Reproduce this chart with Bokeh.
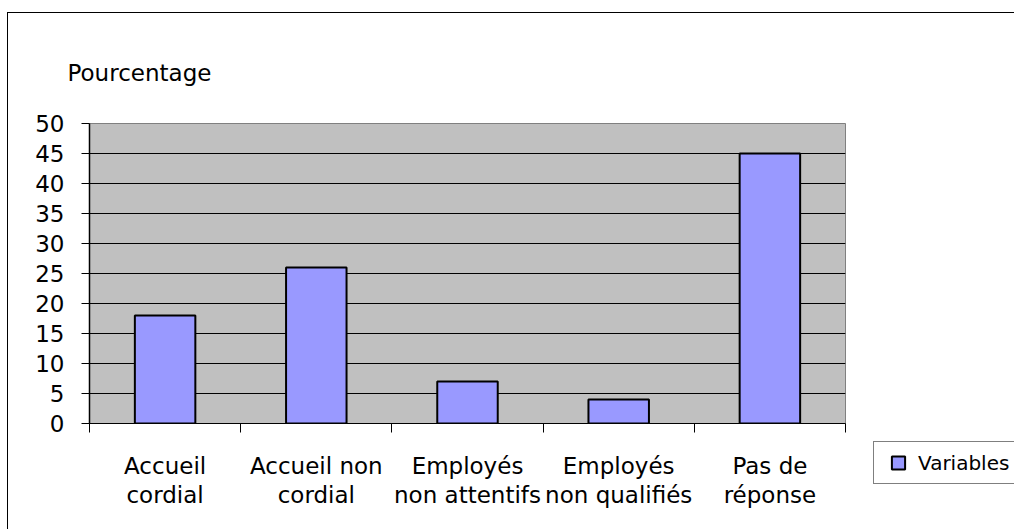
from bokeh.plotting import figure
from bokeh.layouts import row
from bokeh.models import (ColumnDataSource, Range1d, FixedTicker, CustomJSTickFormatter,
                          Legend, LegendItem)
from bokeh.embed import file_html
from bokeh.resources import INLINE

# Survey answers: share of respondents per answer (percent)
categories = ["Accueil\ncordial", "Accueil non\ncordial", "Employés\nnon attentifs",
              "Employés\nnon qualifiés", "Pas de\nréponse"]
percentages = [18, 26, 7, 4, 45]
y_ticks = [0, 5, 10, 15, 20, 25, 30, 35, 40, 45, 50]
series_name = "Variables"
axis_title = "Pourcentage"

FONT = "DejaVu Sans"
BAR_COLOR = "#9999FF"

n = len(categories)
centers = [i + 0.5 for i in range(n)]
boundaries = [float(i) for i in range(n + 1)]

source = ColumnDataSource(dict(x=centers, top=percentages))

p = figure(
    width=852, height=516,
    x_range=Range1d(0, n), y_range=Range1d(y_ticks[0], y_ticks[-1]),
    output_backend="svg", toolbar_location=None,
    min_border_left=81, min_border_right=15, min_border_top=110, min_border_bottom=106,
    background_fill_color="#C0C0C0", border_fill_color="white",
    outline_line_color="#808080", outline_line_width=1,
    title=axis_title,
)
p.frame_align = False

p.title.text_font = FONT
p.title.text_font_size = "23px"
p.title.text_font_style = "normal"
p.title.text_color = "black"
p.title.align = "left"
p.title.offset = -22
p.title.standoff = 75

bars = p.vbar(x="x", top="top", bottom=0, width=0.4, source=source,
              fill_color=BAR_COLOR, line_color="black", line_width=2)

# y axis
yax = p.yaxis[0]
yax.ticker = FixedTicker(ticks=y_ticks)
yax.axis_line_color = "black"
yax.axis_line_width = 1.5
yax.major_tick_line_color = "black"
yax.major_tick_out = 8
yax.major_tick_in = 0
yax.minor_tick_line_color = None
yax.major_label_standoff = 17
yax.major_label_text_font = FONT
yax.major_label_text_font_size = "23px"
yax.major_label_text_color = "black"

# x axis: labels at bar centres, ticks on category boundaries
xax = p.xaxis[0]
xax.ticker = FixedTicker(ticks=centers, minor_ticks=boundaries)
xax.formatter = CustomJSTickFormatter(args=dict(labels=categories),
                                      code="return labels[Math.floor(tick)]")
xax.axis_line_color = "black"
xax.major_tick_line_color = None
xax.major_tick_out = 0
xax.major_tick_in = 0
xax.minor_tick_line_color = "black"
xax.minor_tick_out = 9
xax.minor_tick_in = 0
xax.major_label_standoff = 20
xax.major_label_text_font = FONT
xax.major_label_text_font_size = "23px"
xax.major_label_text_color = "black"
xax.major_label_text_line_height = 1.15

# grid
p.xgrid.visible = False
p.ygrid.ticker = FixedTicker(ticks=y_ticks[:-1])
p.ygrid.grid_line_color = "black"
p.ygrid.grid_line_width = 1

# legend panel to the right of the chart
key = figure(
    width=154, height=516,
    x_range=Range1d(-20, -19), y_range=Range1d(-20, -19),
    output_backend="svg", toolbar_location=None,
    x_axis_location=None, y_axis_location=None,
    min_border=0, min_border_left=0, min_border_right=0,
    min_border_top=0, min_border_bottom=0,
    background_fill_color="white", border_fill_color="white",
    outline_line_color=None,
)
key.frame_align = False
key.grid.visible = False
swatch = key.scatter(x="x", y="top", source=source, marker="square",
                     fill_color=BAR_COLOR, line_color="black", line_width=2)
legend = Legend(items=[LegendItem(label=series_name, renderers=[swatch])],
                location=(13, 45), margin=0, padding=4,
                glyph_width=40, glyph_height=33, label_standoff=0, label_width=120,
                label_text_font=FONT, label_text_font_size="20px",
                label_text_color="black",
                border_line_color="black", border_line_width=1,
                background_fill_color="white", background_fill_alpha=1)
key.add_layout(legend, "center")

chart = row(p, key, spacing=0)
# outer chart frame (left and top edges fall inside the window)
chart.styles = {
    "margin-left": "7px", "margin-top": "12px",
    "border-left": "1px solid #000000", "border-top": "1px solid #000000",
}

open("out.html", "w").write(file_html(chart, INLINE))
